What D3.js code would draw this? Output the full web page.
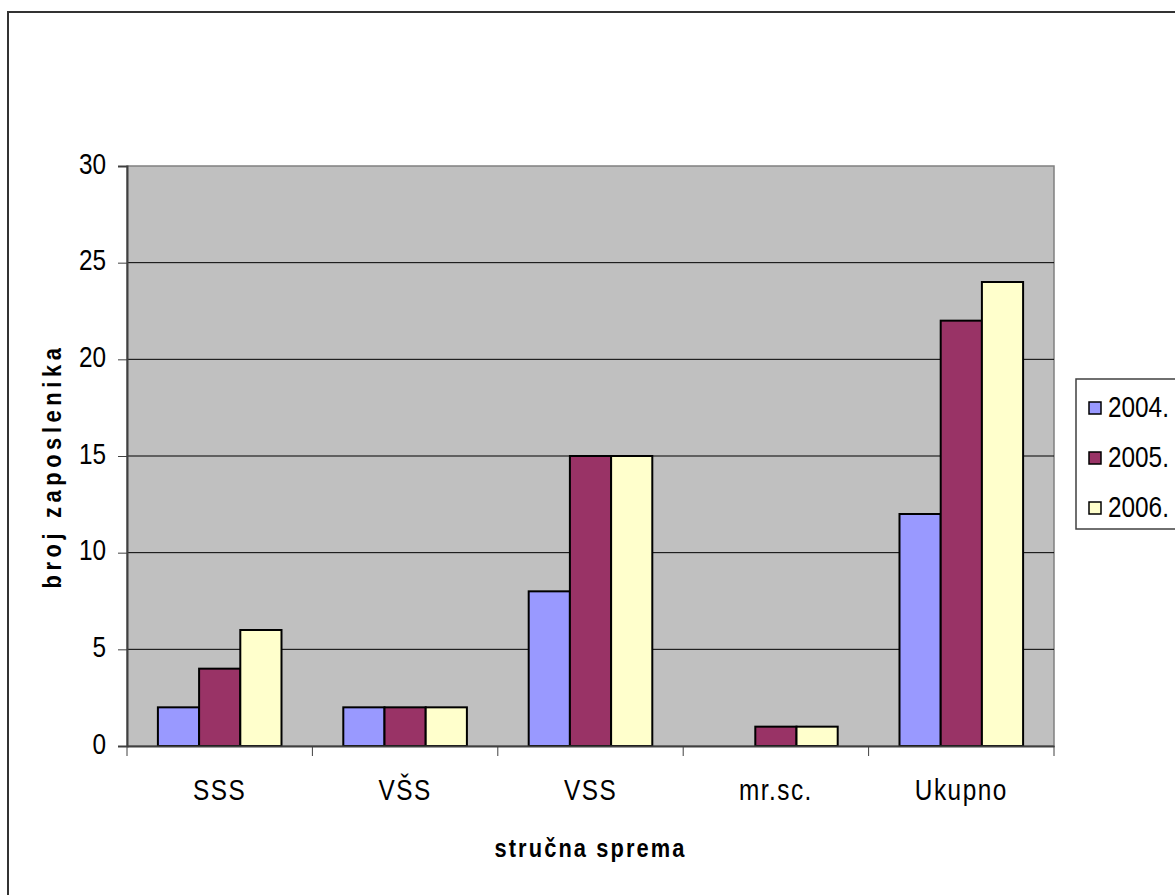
<html>
<head>
    <meta http-equiv="content-type" content="text/html; charset=UTF8">
    <script type="text/javascript" src="https://cdn.jsdelivr.net/npm/d3@7"></script>
    <style>
        body { margin: 0; background: #fff; }
        text { font-family: "Liberation Sans", Arial, sans-serif; fill: #000; }
    </style>
</head>
<body>
<div id="chart"></div>
<script>
    // data
    var categories = ["SSS", "VŠS", "VSS", "mr.sc.", "Ukupno"];
    var series = ["2004.", "2005.", "2006."];
    var values2004 = [2, 2, 8, 0, 12];
    var values2005 = [4, 2, 15, 1, 22];
    var values2006 = [6, 2, 15, 1, 24];
    var yTicks = [0, 5, 10, 15, 20, 25, 30];
    var colors = ["#9999FF", "#993366", "#FFFFCC"];

    var width = 1175, height = 895;
    var plot = { left: 127, right: 1054, top: 166, bottom: 746 };
    var squeeze = 0.84; // the original font is a narrow one

    // move x/y into a transform so the glyphs can be squeezed horizontally
    function narrow(sel, extra) {
        sel.each(function() {
            var t = d3.select(this);
            var x = +t.attr("x") || 0, y = +t.attr("y") || 0;
            t.attr("x", 0).attr("y", 0)
             .attr("transform", "translate(" + x + "," + y + ")" + (extra || "") + " scale(" + squeeze + ",1)");
        });
    }

    var svg = d3.select("#chart").append("svg")
        .attr("width", width)
        .attr("height", height);

    // outer chart border
    svg.append("rect")
        .attr("x", 8).attr("y", 12)
        .attr("width", 1200).attr("height", 900)
        .attr("fill", "#fff")
        .attr("stroke", "#333").attr("stroke-width", 2);

    var x0 = d3.scaleBand().domain(categories).range([plot.left, plot.right]);
    var x1 = d3.scaleBand().domain(series).range([0, x0.bandwidth()])
        .paddingInner(0).paddingOuter(0.75);
    var y = d3.scaleLinear().domain([0, 30]).range([plot.bottom, plot.top]);

    // plot area
    svg.append("rect")
        .attr("x", plot.left).attr("y", plot.top)
        .attr("width", plot.right - plot.left).attr("height", plot.bottom - plot.top)
        .attr("fill", "#C0C0C0")
        .attr("stroke", "#808080").attr("stroke-width", 1.5);

    // gridlines
    svg.selectAll("line.grid")
        .data(yTicks.filter(function(d) { return d > 0 && d < 30; }))
        .enter().append("line")
        .attr("class", "grid")
        .attr("x1", plot.left).attr("x2", plot.right)
        .attr("y1", function(d) { return y(d); })
        .attr("y2", function(d) { return y(d); })
        .attr("stroke", "#000").attr("stroke-width", 1);

    // bars
    var rows = categories.map(function(c, i) {
        return { cat: c, vals: [values2004[i], values2005[i], values2006[i]] };
    });

    var groups = svg.selectAll("g.cat")
        .data(rows)
        .enter().append("g")
        .attr("class", "cat")
        .attr("transform", function(d) { return "translate(" + x0(d.cat) + ",0)"; });

    groups.selectAll("rect")
        .data(function(d) {
            return d.vals.map(function(v, i) { return { s: series[i], v: v, i: i }; })
                .filter(function(b) { return b.v > 0; });
        })
        .enter().append("rect")
        .attr("x", function(d) { return x1(d.s); })
        .attr("y", function(d) { return y(d.v); })
        .attr("width", x1.bandwidth())
        .attr("height", function(d) { return y(0) - y(d.v); })
        .attr("fill", function(d) { return colors[d.i]; })
        .attr("stroke", "#000").attr("stroke-width", 2);

    // y axis
    var yAxis = svg.append("g")
        .attr("transform", "translate(" + plot.left + ",0)")
        .call(d3.axisLeft(y).tickValues(yTicks).tickSize(9).tickPadding(12));
    yAxis.select(".domain").attr("stroke", "#404040").attr("stroke-width", 2);
    yAxis.selectAll(".tick line").attr("stroke", "#404040");
    yAxis.selectAll(".tick text")
        .style("font-size", "29px")
        .attr("dy", 0).attr("y", 7)
        .call(narrow);

    // x axis
    var xAxis = svg.append("g")
        .attr("transform", "translate(0," + plot.bottom + ")")
        .call(d3.axisBottom(x0).tickSize(0).tickPadding(0));
    xAxis.select(".domain").attr("stroke", "#404040").attr("stroke-width", 2);
    xAxis.selectAll(".tick text")
        .style("font-size", "29px")
        .style("letter-spacing", "1.8px")
        .attr("y", 54).attr("dy", 0)
        .call(narrow);
    xAxis.selectAll("line.sep")
        .data(d3.range(categories.length + 1))
        .enter().append("line")
        .attr("class", "sep")
        .attr("x1", function(i) { return plot.left + i * x0.step(); })
        .attr("x2", function(i) { return plot.left + i * x0.step(); })
        .attr("y1", 0).attr("y2", 10)
        .attr("stroke", "#404040");

    // axis titles
    svg.append("text")
        .attr("x", 61).attr("y", 466)
        .attr("text-anchor", "middle")
        .style("font-size", "26px").style("font-weight", "bold")
        .style("letter-spacing", "5.5px")
        .text("broj zaposlenika")
        .call(narrow, " rotate(-90)");

    svg.append("text")
        .attr("x", (plot.left + plot.right) / 2).attr("y", 857)
        .attr("text-anchor", "middle")
        .style("font-size", "26px").style("font-weight", "bold")
        .style("letter-spacing", "2.5px")
        .text("stručna sprema")
        .call(narrow);

    // legend
    var legend = svg.append("g");
    legend.append("rect")
        .attr("x", 1076).attr("y", 379)
        .attr("width", 140).attr("height", 150)
        .attr("fill", "#fff")
        .attr("stroke", "#404040").attr("stroke-width", 1.5);
    var items = legend.selectAll("g.item")
        .data(series)
        .enter().append("g")
        .attr("class", "item")
        .attr("transform", function(d, i) { return "translate(1089," + (402 + i * 50) + ")"; });
    items.append("rect")
        .attr("width", 12).attr("height", 12)
        .attr("fill", function(d, i) { return colors[i]; })
        .attr("stroke", "#000").attr("stroke-width", 1.5);
    items.append("text")
        .attr("x", 19).attr("y", 15)
        .style("font-size", "29px")
        .text(function(d) { return d; })
        .call(narrow);
</script>
</body>
</html>
